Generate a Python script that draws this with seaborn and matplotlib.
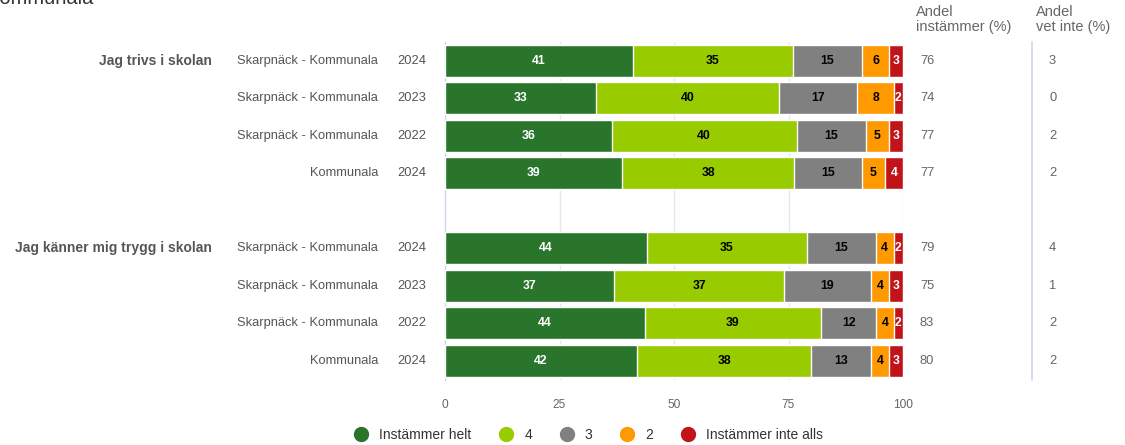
import numpy as np
import pandas as pd
import matplotlib
matplotlib.use("Agg")
import matplotlib.pyplot as plt
from matplotlib.lines import Line2D
import seaborn as sns

# data
questions = ["Jag trivs i skolan", "Jag känner mig trygg i skolan"]
units = ["Skarpnäck - Kommunala", "Skarpnäck - Kommunala", "Skarpnäck - Kommunala", "Kommunala"]
years = ["2024", "2023", "2022", "2024"]
helt = [41, 33, 36, 39, 44, 37, 44, 42]
four = [35, 40, 40, 38, 35, 37, 39, 38]
three = [15, 17, 15, 15, 15, 19, 12, 13]
two = [6, 8, 5, 5, 4, 4, 4, 4]
inte = [3, 2, 3, 4, 2, 3, 2, 3]
andel_inst = [76, 74, 77, 77, 79, 75, 83, 80]
andel_vet = [3, 0, 2, 2, 4, 1, 2, 2]
series = ["Instämmer helt", "4", "3", "2", "Instämmer inte alls"]
colors = ["#28752b", "#99cc00", "#808080", "#ff9900", "#c0141a"]
txt_colors = ["white", "black", "black", "black", "white"]

sns.set_theme(style="white")
plt.rcParams['font.family'] = ['Liberation Sans', 'DejaVu Sans']

rows = ["r0", "r1", "r2", "r3", "gap", "r4", "r5", "r6", "r7"]
data_rows = [r for r in rows if r != "gap"]
vals = np.array([helt, four, three, two, inte], dtype=float)
# rounded shares do not always add to 100, the bars are full width anyway
shares = vals / vals.sum(axis=0) * 100
cum = np.cumsum(shares, axis=0)
df = pd.DataFrame({"row": data_rows})
for k in range(5):
    df[f"c{k}"] = cum[k]

fig = plt.figure(figsize=(11.25, 4.45), dpi=100)
ax = fig.add_axes([445 / 1125, 1 - 379.5 / 445, 458 / 1125, 337.5 / 445])

for k in reversed(range(5)):
    sns.barplot(data=df, x=f"c{k}", y="row", order=rows, color=colors[k],
                width=0.86, edgecolor="white", linewidth=1, errorbar=None,
                saturation=1, ax=ax, zorder=3)

pos = {r: i for i, r in enumerate(rows)}
tr = ax.get_yaxis_transform()
for j, r in enumerate(data_rows):
    y = pos[r]
    left = 0
    for k in range(5):
        w = shares[k, j]
        ax.text(left + w / 2, y, f"{int(vals[k, j])}", ha="center", va="center",
                fontsize=8.8, fontweight="bold", color=txt_colors[k], zorder=5)
        left += w
    # row labels
    if j % 4 == 0:
        ax.text(-0.5087, y, questions[j // 4], transform=tr, ha="right", va="center",
                fontsize=10, fontweight="bold", color="#555555")
    ax.text(-0.1463, y, units[j % 4], transform=tr, ha="right", va="center",
            fontsize=9.3, color="#555555")
    ax.text(-0.0415, y, years[j % 4], transform=tr, ha="right", va="center",
            fontsize=9.3, color="#555555")
    ax.text(1.037, y, f"{andel_inst[j]}", transform=tr, ha="left", va="center",
            fontsize=9.3, color="#666666")
    ax.text(1.3188, y, f"{andel_vet[j]}", transform=tr, ha="left", va="center",
            fontsize=9.3, color="#666666")

ax.set_xlim(0, 100)
ax.set_ylim(8.5, -0.5)
ax.set_xlabel("")
ax.set_ylabel("")
ax.set_xticks([0, 25, 50, 75, 100])
ax.tick_params(axis="x", length=0, labelsize=8.6, labelcolor="#666666", pad=14)
ax.set_yticks([])
ax.set_yticks(np.arange(-0.5, 9, 1), minor=True)
ax.tick_params(axis="y", which="minor", length=7, color="#ccd6eb", width=1)
for xg in [25, 50, 75, 100]:
    ax.axvline(xg, color="#e6e6e6", linewidth=1, zorder=0)
for s in ["top", "right", "bottom"]:
    ax.spines[s].set_visible(False)
ax.spines["left"].set_color("#ccd6eb")
ax.spines["left"].set_linewidth(1)

# separator between the two columns on the right
ax.plot([1.2817, 1.2817], [0, 1], transform=ax.transAxes, color="#ccd6eb",
        linewidth=1.2, clip_on=False)

# column headers
fig.text(916 / 1125, 1 - 5 / 445, "Andel\ninstämmer (%)", ha="left", va="top",
         fontsize=10.5, color="#666666", linespacing=1.1)
fig.text(1036 / 1125, 1 - 5 / 445, "Andel\nvet inte (%)", ha="left", va="top",
         fontsize=10.5, color="#666666", linespacing=1.1)

# title, partly outside the canvas
fig.text(-14 / 1125, 1 - 4 / 445, "Kommunala", ha="left", va="baseline",
         fontsize=14.5, color="#333333")

handles = [Line2D([0], [0], marker="o", linestyle="", markersize=10,
                  markerfacecolor=c, markeredgecolor=c) for c in colors]
fig.legend(handles, series, loc="center", bbox_to_anchor=(0.52, 1 - 435 / 445),
           ncol=5, frameon=False, fontsize=10, handletextpad=0.3,
           columnspacing=1.5, labelcolor="#333333")

fig.savefig("out.png", dpi=100)
